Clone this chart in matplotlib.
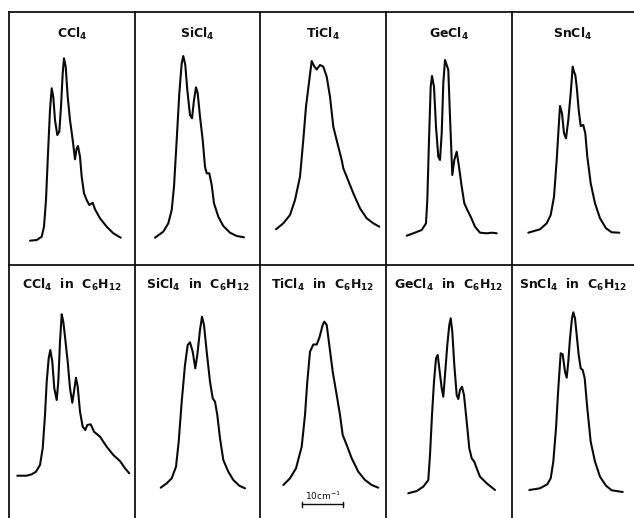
import matplotlib
matplotlib.use("Agg")
import matplotlib.pyplot as plt

plt.rcParams['font.family'] = ['DejaVu Sans']
plt.rcParams['mathtext.default'] = 'regular'

# ---- data: x = relative wavenumber (chart units, 4.1 units = 1 cm-1), y = intensity (arb.)
ccl4_x = [21, 27.7, 32.7, 35, 37, 38.7, 41, 42.7, 44.3, 46, 48.3, 50.3, 52, 53.7, 55, 56.7, 58.7, 61, 63.7,
          66, 67.7, 69, 71, 72.7, 75, 77.7, 80.3, 83.7, 86, 91, 97.7, 104.3, 111.7]
ccl4_y = [24.3, 25, 28.3, 38.3, 65, 105, 155, 176.7, 168, 145, 130, 133.3, 158.3, 191.7, 206.7, 198.3, 168.3,
          145, 125, 105.7, 116.7, 119, 108.3, 88.3, 71.7, 65, 60, 62.3, 55.7, 46.7, 38.3, 31.7, 27.3]

sicl4_x = [20, 28.3, 33.3, 36.7, 39, 41.7, 44.3, 46.7, 48.3, 50.3, 52.3, 55, 57, 59, 61, 62.7, 65, 67.7, 70,
           71.7, 74.3, 76.7, 79, 83.3, 88.3, 95, 101.7, 109]
sicl4_y = [27.3, 33.3, 41.7, 55, 78.3, 125, 171.7, 201.7, 209, 200, 175, 150, 146.7, 165, 177.7, 171.7, 148.3,
           125, 98.3, 91.7, 91.7, 80, 61.7, 48.3, 39, 32.3, 29, 27.7]

ticl4_x = [16, 23.3, 30, 35, 40, 43.3, 46, 49.3, 51.7, 54, 56.7, 60, 63.3, 66.7, 70, 73.3, 78.3, 81.7, 83.3,
           86.7, 93.3, 100, 106.7, 113.3, 119.3]
ticl4_y = [35.7, 41.7, 50, 65, 88.3, 125, 158.3, 185, 204, 199, 195.5, 200, 198.3, 188.3, 168.3, 138.3, 118.3,
           105, 96.7, 88.3, 71.7, 56.7, 46.7, 41.7, 38.3]

gecl4_x = [20.7, 27.3, 35.7, 40, 41.3, 43, 44.7, 46, 48, 50, 52.3, 54, 55.7, 57.3, 59, 60.7, 62.3, 64, 66.3,
           68.3, 70.7, 73, 75.7, 78.3, 81.3, 84.7, 89, 94, 100.7, 105.7, 110.7]
gecl4_y = [29.3, 31.7, 35, 41.7, 65, 125, 178.3, 189, 178.3, 138.3, 108.3, 105, 131.7, 181.7, 205, 200, 195,
           148.3, 90, 105, 113.3, 98.3, 78.3, 61.7, 55, 48.3, 38.3, 32.3, 31.7, 32.3, 31.7]

sncl4_x = [16.3, 28, 34.7, 38.7, 42, 44.7, 46.3, 48, 50, 52, 54, 56.3, 58.7, 60.7, 62, 63.3, 64.7, 66.7, 68.7,
           71.3, 73.3, 75.3, 78.7, 83, 88, 94, 99.7, 107.3]
sncl4_y = [32.3, 35.7, 41.7, 50, 68.3, 105, 131.7, 159, 151.7, 131.7, 126.7, 145, 171.7, 198.3, 193.3, 190,
           178.3, 155, 139, 140, 131.7, 108.3, 81.7, 61.7, 46.7, 36.7, 32.7, 32.3]

ccl4_sol_x = [8.3, 17.7, 22.7, 27, 31, 33.7, 36, 37.7, 39.7, 41.3, 43.3, 45.3, 47.7, 49.3, 51, 52.7, 54.3, 56,
              58.7, 61, 63.3, 65, 67, 68.7, 71, 73.7, 76.3, 78.3, 81.7, 85, 91, 97.7, 104.3, 111, 116, 120.3]
ccl4_sol_y = [42.3, 42.3, 43.7, 46.3, 53, 69.7, 103, 136.3, 159.7, 168, 156.3, 129.7, 118, 136.3, 176.3, 203.7,
              196.3, 181.3, 156.3, 129.7, 115.3, 126.3, 140.3, 131.3, 106.3, 91.3, 88, 93, 93.7, 86.3, 81.3,
              71.3, 63, 57, 49.7, 44.7]

sicl4_sol_x = [25.7, 31.7, 36.7, 41, 43.7, 46.7, 50, 52.7, 55, 57.7, 60.3, 62.3, 65, 67, 69, 71.7, 75, 77.7,
               80, 82.3, 85, 88.3, 93.3, 98.3, 104.3, 110]
sicl4_sol_y = [30.3, 34.7, 39.7, 51.3, 76.3, 116.3, 153, 173, 175.7, 166.3, 149.7, 163, 188, 201.3, 193,
               166.3, 136.3, 119.7, 116.3, 103, 79.7, 58, 46.3, 38, 32.3, 29.7]

ticl4_sol_x = [23.3, 30, 36, 41.7, 45, 47.3, 50, 53.3, 56.7, 59.3, 62.7, 64.3, 66.7, 69.3, 72.7, 76.7, 80,
               82.7, 86.7, 91.7, 98.3, 105, 111.7, 118.3]
ticl4_sol_y = [33, 39.7, 49.7, 71.3, 103, 136.3, 166.3, 173.5, 173.5, 180, 193, 196.3, 193, 173, 146.3, 123,
               103, 83, 73, 59.7, 46.3, 38, 33, 30.3]

gecl4_sol_x = [22.3, 30.7, 37.3, 42.3, 44, 46, 48, 50, 51.7, 53.3, 55.7, 57.3, 59, 61.3, 63.3, 64.7, 66.3,
               68.3, 70.7, 72.3, 74, 76, 78, 80.7, 83.3, 85.7, 88.3, 90.7, 94, 100.7, 109]
gecl4_sol_y = [24.7, 27, 31.3, 38, 63, 103, 136.3, 159.7, 163, 149.7, 129.7, 121.3, 143, 173, 193, 199.7,
               186.3, 153, 123, 119, 128, 131.3, 123, 96.3, 69.7, 59.7, 56.3, 49.7, 41.3, 34.7, 28]

sncl4_sol_x = [17.3, 28, 35.3, 38.7, 41.3, 44, 46.3, 48.7, 50.7, 53, 54.7, 56.3, 58, 60, 61.3, 63, 64.7, 66.7,
               68.7, 70.7, 72.7, 75.3, 78.7, 83, 88, 94, 99.7, 110.7]
sncl4_sol_y = [28, 29.7, 33.7, 39.7, 56.3, 89.7, 129.7, 164.7, 163.7, 146.3, 140.3, 156.3, 179.7, 199.7,
               205.7, 199.7, 183, 163, 149.7, 148, 139.7, 109.7, 76.3, 56.3, 41.3, 32.3, 27.7, 26]

top_titles = ["CCl$_4$", "SiCl$_4$", "TiCl$_4$", "GeCl$_4$", "SnCl$_4$"]
bottom_titles = ["CCl$_4$  in  C$_6$H$_{12}$", "SiCl$_4$  in  C$_6$H$_{12}$", "TiCl$_4$  in  C$_6$H$_{12}$",
                 "GeCl$_4$  in  C$_6$H$_{12}$", "SnCl$_4$  in  C$_6$H$_{12}$"]
top_series = [(ccl4_x, ccl4_y), (sicl4_x, sicl4_y), (ticl4_x, ticl4_y), (gecl4_x, gecl4_y), (sncl4_x, sncl4_y)]
bottom_series = [(ccl4_sol_x, ccl4_sol_y), (sicl4_sol_x, sicl4_sol_y), (ticl4_sol_x, ticl4_sol_y),
                 (gecl4_sol_x, gecl4_sol_y), (sncl4_sol_x, sncl4_sol_y)]

scale_bar_units = 10          # cm-1
units_per_cm = 4.1            # chart units per cm-1
scale_bar_start = 42          # chart units in TiCl4 solution panel
scale_bar_level = 14

# ---- layout (figure pixels)
W, H = 634, 518
col_edges = [9, 135, 260, 386, 512, 634]
row_edges = [(12, 265), (265, 518)]

fig = plt.figure(figsize=(W / 100, H / 100), dpi=100)
fig.patch.set_facecolor('white')

for r, (titles, series) in enumerate([(top_titles, top_series), (bottom_titles, bottom_series)]):
    y0, y1 = row_edges[r]
    for c in range(5):
        x0, x1 = col_edges[c], col_edges[c + 1]
        ax = fig.add_axes([x0 / W, 1 - y1 / H, (x1 - x0) / W, (y1 - y0) / H])
        ax.set_xlim(0, x1 - x0)
        ax.set_ylim(0, y1 - y0)
        ax.set_xticks([])
        ax.set_yticks([])
        ax.patch.set_alpha(0)
        for s in ['right', 'bottom']:
            ax.spines[s].set_visible(False)
        for s in ['left', 'top']:
            ax.spines[s].set_linewidth(1.3)
            ax.spines[s].set_color('#111111')
        xs, ys = series[c]
        ax.plot(xs, ys, color='#0a0a0a', lw=1.5, solid_joinstyle='round', solid_capstyle='round')
        ty = 0.915 if r == 0 else 0.92
        ax.text(0.5, ty, titles[c], transform=ax.transAxes, ha='center', va='center',
                fontsize=9, fontweight='bold', color='#111111')
        if r == 1 and c == 2:
            xa = scale_bar_start
            xb = scale_bar_start + scale_bar_units * units_per_cm
            ax.plot([xa, xb], [scale_bar_level, scale_bar_level], color='#111111', lw=1.0)
            ax.plot([xa, xa], [scale_bar_level - 2.5, scale_bar_level + 2.5], color='#111111', lw=1.0)
            ax.plot([xb, xb], [scale_bar_level - 2.5, scale_bar_level + 2.5], color='#111111', lw=1.0)
            ax.text((xa + xb) / 2 + 1, scale_bar_level + 8, "10cm$^{-1}$", ha='center', va='center',
                    fontsize=6.5, color='#111111')

fig.savefig("out.png", dpi=100, facecolor='white')
